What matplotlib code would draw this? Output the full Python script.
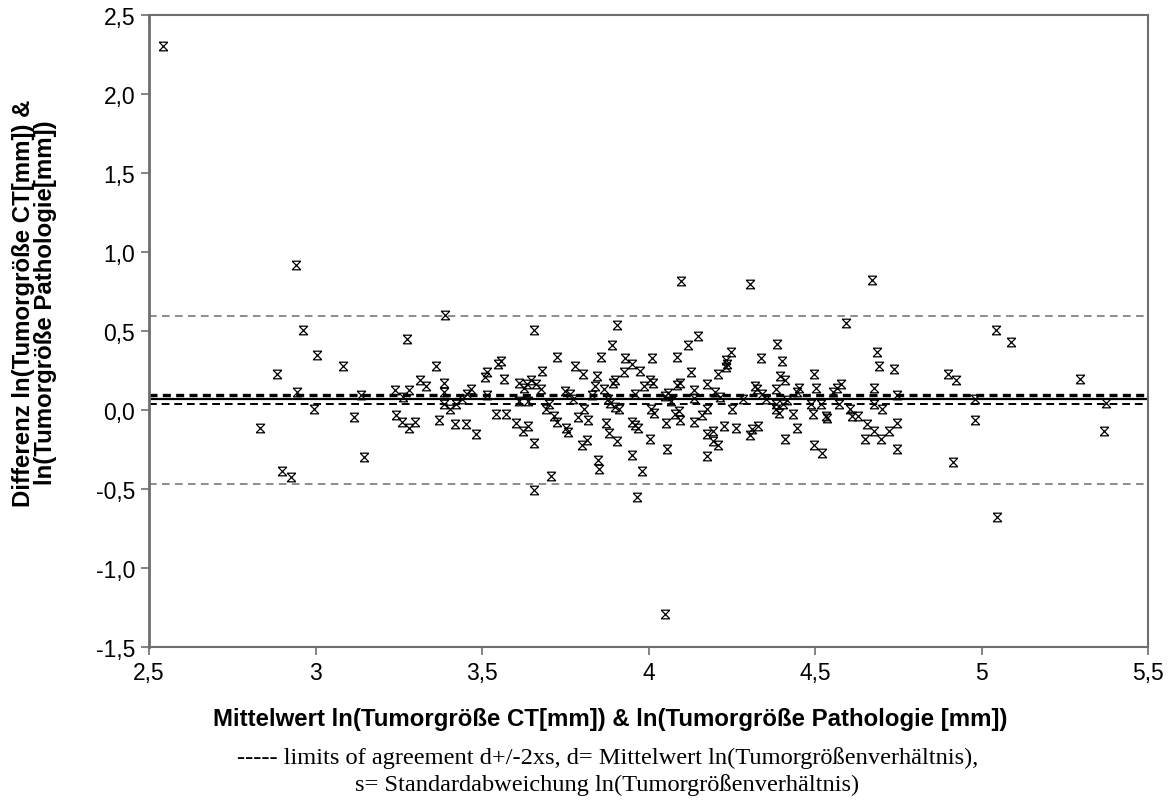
import matplotlib
matplotlib.use('Agg')
import matplotlib.pyplot as plt
from matplotlib.path import Path
import numpy as np

# Mittelwert der beiden ln-Werte (x) und ihre Differenz (y)
mean_ln = [
    2.541, 2.941, 2.963, 3.005, 2.885, 2.944, 2.996, 2.833, 2.900, 2.925,
    3.389, 3.274, 3.083, 3.361, 3.314, 3.332, 3.386, 3.386, 3.239, 3.281,
    3.262, 3.136, 3.467, 3.454, 3.439, 3.514, 3.509, 3.514, 3.116, 3.241,
    3.261, 3.281, 3.299, 3.371, 3.386, 3.404, 3.421, 3.419, 3.452, 3.481,
    3.147, 3.657, 3.906, 3.891, 3.726, 3.858, 4.011, 3.929, 3.949, 3.974,
    3.926, 3.556, 3.549, 3.566, 3.681, 3.779, 3.802, 3.844, 3.611, 3.627,
    3.634, 3.647, 3.662, 3.677, 3.839, 3.867, 3.894, 3.899, 3.987, 4.005,
    4.014, 3.749, 3.764, 3.772, 3.831, 3.879, 3.959, 3.612, 3.639, 3.701,
    3.691, 3.884, 3.899, 3.912, 4.009, 4.016, 3.542, 3.572, 3.716, 3.726,
    3.789, 3.806, 3.819, 3.601, 3.624, 3.639, 3.751, 3.759, 3.872, 3.881,
    3.906, 3.951, 3.959, 3.969, 4.005, 3.657, 3.801, 3.816, 3.849, 3.852,
    3.951, 3.979, 3.706, 3.657, 3.964,
    4.148, 4.118, 4.387, 4.085, 4.248, 4.233, 4.237, 4.233, 4.338, 4.402,
    4.128, 4.210, 4.497, 4.085, 4.095, 4.177, 4.395, 4.410, 4.059, 4.050,
    4.067, 4.138, 4.138, 4.200, 4.215, 4.285, 4.320, 4.325, 4.340, 4.352,
    4.382, 4.445, 4.452, 4.502, 4.080, 4.093, 4.095, 4.052, 4.138, 4.162,
    4.177, 4.252, 4.383, 4.383, 4.392, 4.405, 4.415, 4.435, 4.488, 4.493,
    4.517, 4.533, 4.537, 4.057, 4.177, 4.195, 4.195, 4.210, 4.177, 4.228,
    4.262, 4.305, 4.310, 4.328, 4.410, 4.445, 4.497, 4.522,
    4.592, 5.043, 4.685, 4.693, 4.737, 4.900, 4.923, 4.577, 4.567, 4.555,
    4.678, 4.747, 4.979, 4.573, 4.678, 4.702, 4.605, 4.610, 4.630, 4.655,
    4.678, 4.698, 4.650, 4.722, 4.747, 4.747, 4.979, 4.914, 5.046,
    5.088, 5.296, 5.373, 5.369,
    4.098, 4.305, 4.671, 4.050,
]
diff_ln = [
    2.303, 0.917, 0.509, 0.351, 0.229, 0.114, 0.004, -0.112, -0.385, -0.427,
    0.603, 0.452, 0.280, 0.280, 0.193, 0.151, 0.172, 0.114, 0.124, 0.124,
    0.084, 0.095, 0.130, 0.103, 0.071, 0.242, 0.210, 0.095, -0.042, -0.032,
    -0.074, -0.112, -0.074, -0.063, 0.040, 0.004, 0.040, -0.091, -0.091, -0.154,
    -0.295, 0.509, 0.540, 0.410, 0.336, 0.336, 0.330, 0.330, 0.288, 0.250,
    0.242, 0.309, 0.288, 0.199, 0.250, 0.281, 0.229, 0.218, 0.172, 0.141,
    0.162, 0.193, 0.162, 0.130, 0.151, 0.134, 0.172, 0.193, 0.151, 0.193,
    0.172, 0.120, 0.099, 0.071, 0.095, 0.071, 0.099, 0.057, 0.057, 0.036,
    0.004, 0.046, 0.019, 0.004, 0.004, -0.017, -0.023, -0.023, -0.038, -0.074,
    -0.042, 0.004, -0.063, -0.085, -0.133, -0.101, -0.112, -0.137, -0.085, -0.143,
    -0.196, -0.074, -0.095, -0.112, -0.185, -0.206, -0.223, -0.192, -0.315, -0.375,
    -0.284, -0.385, -0.416, -0.507, -0.549,
    0.471, 0.410, 0.420, 0.336, 0.368, 0.315, 0.294, 0.273, 0.330, 0.309,
    0.240, 0.229, 0.229, 0.158, 0.172, 0.162, 0.215, 0.193, 0.109, 0.088,
    0.057, 0.124, 0.078, 0.115, 0.082, 0.067, 0.151, 0.130, 0.099, 0.071,
    0.134, 0.115, 0.141, 0.141, -0.027, -0.006, -0.065, -0.085, -0.074, -0.032,
    0.004, 0.004, 0.040, 0.004, -0.017, 0.040, 0.061, -0.023, 0.040, -0.023,
    0.040, -0.038, -0.053, -0.244, -0.154, -0.133, -0.196, -0.223, -0.290, -0.101,
    -0.112, -0.160, -0.122, -0.101, -0.185, -0.112, -0.223, -0.269,
    0.551, 0.509, 0.368, 0.278, 0.262, 0.229, 0.193, 0.162, 0.141, 0.114,
    0.141, 0.095, 0.067, 0.036, 0.040, 0.004, 0.004, -0.038, -0.038, -0.091,
    -0.133, -0.185, -0.185, -0.133, -0.085, -0.244, -0.063, -0.326, -0.679,
    0.431, 0.199, 0.042, -0.133,
    0.815, 0.796, 0.821, -1.291,
]

d_mean = 0.067
upper_loa = 0.597
lower_loa = -0.469
ci_upper = 0.097
ci_lower = 0.036

xticks = [2.5, 3.0, 3.5, 4.0, 4.5, 5.0, 5.5]
xticklabels = ['2,5', '3', '3,5', '4', '4,5', '5', '5,5']
yticks = [-1.5, -1.0, -0.5, 0.0, 0.5, 1.0, 1.5, 2.0, 2.5]
yticklabels = ['-1,5', '-1,0', '-0,5', '0,0', '0,5', '1,0', '1,5', '2,0', '2,5']

# Sanduhr-Marker
hourglass = Path(
    [(-1, 1), (1, 1), (-1, -1), (1, -1), (-1, 1), (1, -1), (1, 1), (-1, -1)],
    [Path.MOVETO, Path.LINETO, Path.MOVETO, Path.LINETO,
     Path.MOVETO, Path.LINETO, Path.MOVETO, Path.LINETO],
)

plt.rcParams['font.family'] = ['Liberation Sans', 'DejaVu Sans']
serif = ['Liberation Serif', 'DejaVu Serif']

fig = plt.figure(figsize=(11.75, 8.03), dpi=100)
ax = fig.add_axes([149 / 1175, 1 - 648 / 803, (1148 - 149) / 1175, (648 - 16) / 803])

grey = '#6e6e6e'
ax.axhline(upper_loa, color=grey, lw=1.1, dashes=(5, 3.5))
ax.axhline(lower_loa, color=grey, lw=1.1, dashes=(5, 3.5))
ax.axhline(ci_upper, color='black', lw=2.4, dashes=(2.4, 1.6))
ax.axhline(d_mean, color='black', lw=1.6)
ax.axhline(ci_lower, color='black', lw=1.4, dashes=(4, 2.5))

ax.plot(mean_ln, diff_ln, linestyle='none', marker=hourglass, markersize=6.2,
        markeredgecolor='black', markerfacecolor='none', markeredgewidth=0.9)

ax.set_xlim(2.5, 5.5)
ax.set_ylim(-1.5, 2.5)
ax.set_xticks(xticks)
ax.set_xticklabels(xticklabels)
ax.set_yticks(yticks)
ax.set_yticklabels(yticklabels)
ax.tick_params(axis='both', labelsize=16.5, color=grey, length=6, width=1.2,
               direction='out', pad=4)

for side in ['left', 'top', 'right', 'bottom']:
    ax.spines[side].set_color(grey)
ax.spines['left'].set_linewidth(2)
ax.spines['bottom'].set_linewidth(1.5)
ax.spines['top'].set_linewidth(1.5)
ax.spines['right'].set_linewidth(1.5)

fig.text(0.519, 1 - 720 / 803,
         'Mittelwert ln(Tumorgröße CT[mm]) & ln(Tumorgröße Pathologie [mm])',
         ha='center', va='center', fontsize=17.3, fontweight='bold')
fig.text(0.029, 1 - 303 / 803,
         'Differenz ln(Tumorgröße CT[mm]) &\nln(Tumorgröße Pathologie[mm])',
         ha='center', va='center', rotation=90, fontsize=17.3, fontweight='bold',
         linespacing=0.95)
fig.text(0.517, 1 - 758 / 803,
         '----- limits of agreement d+/-2xs, d= Mittelwert ln(Tumorgrößenverhältnis),',
         ha='center', va='center', fontsize=17.6, family=serif)
fig.text(0.517, 1 - 785 / 803,
         's= Standardabweichung ln(Tumorgrößenverhältnis)',
         ha='center', va='center', fontsize=17.6, family=serif)

fig.savefig('out.png', dpi=100)
